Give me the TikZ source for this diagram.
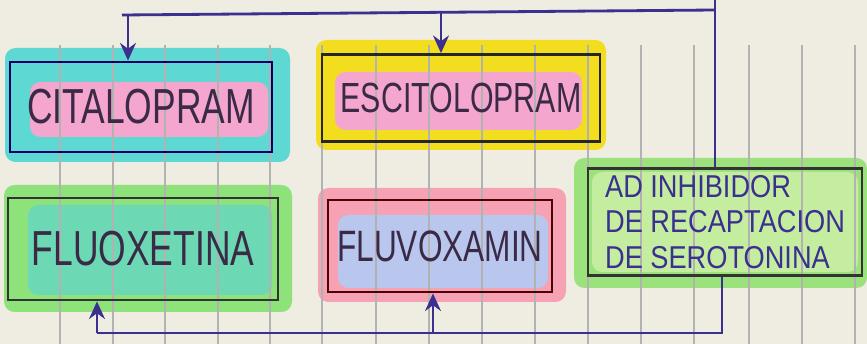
\documentclass[tikz,border=0pt]{standalone}
\usepackage{fontspec}
\newfontfamily\hand[FakeStretch=0.72]{Liberation Sans}
\newfontfamily\handw[FakeStretch=0.86]{Liberation Sans}
\usetikzlibrary{arrows.meta}
\definecolor{paper}{HTML}{EFECE2}
\definecolor{pen}{HTML}{3B2F8F}
\definecolor{ink}{HTML}{3A2A45}
\definecolor{hlcyan}{HTML}{5ED8D2}
\definecolor{hlpink}{HTML}{F4A6CF}
\definecolor{hlyellow}{HTML}{F2DE1E}
\definecolor{hlgreen}{HTML}{8EE27A}
\definecolor{hlteal}{HTML}{6CD8B4}
\definecolor{hlrose}{HTML}{F7A2B4}
\definecolor{hlblue}{HTML}{B9C7EE}
\definecolor{hlgreenB}{HTML}{9BE27C}
\definecolor{hllime}{HTML}{C4EDA0}

\begin{document}
\begin{tikzpicture}[x=0.02cm,y=-0.02cm,
    box/.style={draw=#1,line width=1.6pt,inner sep=0pt,text=ink},
    hl/.style={fill=#1,rounded corners=6pt},
    arr/.style={pen,line width=1.6pt,-{Stealth[length=10pt,width=9pt]}}]
      \fill[paper] (0,0) rectangle (867,344);
      \useasboundingbox (0,0) rectangle (867,344);

      % highlighter
      \fill[hl=hlcyan] (5,48) rectangle (290,162);
      \fill[hl=hlpink] (30,82) rectangle (268,137);
      \fill[hl=hlyellow] (316,40) rectangle (606,150);
      \fill[hl=hlpink] (335,72) rectangle (582,130);
      \fill[hl=hlgreen] (4,185) rectangle (292,312);
      \fill[hl=hlteal] (28,205) rectangle (272,295);
      \fill[hl=hlrose] (318,188) rectangle (566,302);
      \fill[hl=hlblue] (338,215) rectangle (548,288);
      \fill[hl=hlgreenB] (574,158) rectangle (867,288);
      \fill[hl=hllime] (592,172) rectangle (858,272);

      % paper rules
      \foreach \gx in {60,113,165,218,270,322,376,429,482,535,588,641,694,749,802,855}
        \draw[gray!60,line width=0.7pt] (\gx,45) -- (\gx,344);

      \node[box=blue!40!black,minimum width=5.24cm,minimum height=1.8cm,
        font={\hand\fontsize{28}{28}\selectfont}] (cit) at (141,107) {CITALOPRAM};
      \node[box=black!85,minimum width=5.56cm,minimum height=1.74cm,
        font={\hand\fontsize{24}{24}\selectfont}] (esc) at (461,98) {ESCITOLOPRAM};
      \node[box=black!80,minimum width=5.4cm,minimum height=2.04cm,
        font={\hand\fontsize{28}{28}\selectfont}] (flx) at (143,249) {FLUOXETINA};
      \node[box=red!30!black,minimum width=4.48cm,minimum height=1.84cm,
        font={\hand\fontsize{25}{25}\selectfont}] (flv) at (440,246) {FLUVOXAMIN};
      \node[box=black!80,minimum width=5.48cm,minimum height=2.14cm,text=pen,
        align=left,font={\handw\fontsize{18}{20}\selectfont}] (ad) at (725,222)
        {AD INHIBIDOR\\DE RECAPTACION\\DE SEROTONINA};

      \coordinate (top0) at (715,0);
      \coordinate (topR) at (715,10);
      \coordinate (topL) at (122,15);
      \coordinate (a1) at (128,15);
      \coordinate (a2) at (441,13);
      \draw[pen,line width=1.6pt] (top0) -- (ad.north -| top0);
      \draw[pen,line width=1.6pt] (topL) -- (topR);
      \draw[arr] (a1) -- (a1 |- cit.north);
      \draw[arr] (a2) -- (a2 |- esc.north);

      \coordinate (botR) at (722,333);
      \coordinate (botL) at (97,333);
      \coordinate (b2) at (433,333);
      \draw[pen,line width=1.6pt] (ad.south -| botR) -- (botR) -- (botL);
      \draw[arr] (botL) -- (botL |- flx.south);
      \draw[arr] (b2) -- (b2 |- flv.south);
\end{tikzpicture}
\end{document}
